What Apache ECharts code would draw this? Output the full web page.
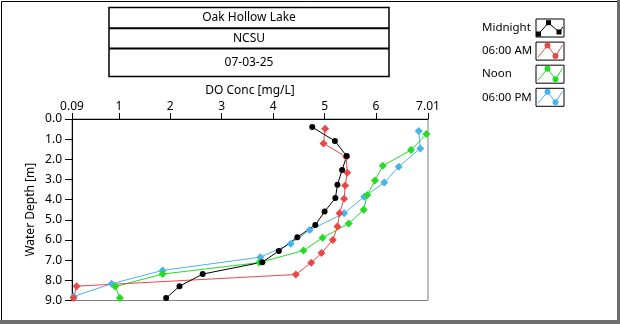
<!DOCTYPE html>
<html>
<head>
<meta charset="utf-8">
<script src="https://cdn.jsdelivr.net/npm/echarts@6/dist/echarts.min.js"></script>
<style>
  html, body { margin: 0; padding: 0; background: #fff; }
  #chart { width: 620px; height: 324px; }
</style>
</head>
<body>
<div id="chart"></div>
<script>
// Dissolved oxygen profiles: [DO concentration mg/L, water depth m]
const midnight = [[4.76,0.40],[5.20,1.09],[5.43,1.84],[5.34,2.53],[5.25,3.26],[5.21,3.92],[5.00,4.59],[4.82,5.25],[4.47,5.86],[4.11,6.54],[3.79,7.10],[2.63,7.69],[2.18,8.29],[1.92,8.88]];
const am6 = [[5.01,0.48],[4.98,1.21],[5.42,1.88],[5.44,2.67],[5.40,3.30],[5.38,3.96],[5.29,4.67],[5.25,5.33],[5.16,6.00],[4.94,6.65],[4.74,7.13],[4.44,7.71],[0.18,8.29],[0.12,8.88]];
const noon = [[6.98,0.74],[6.68,1.54],[6.13,2.32],[5.98,3.05],[5.83,3.77],[5.76,4.50],[5.47,5.18],[4.96,5.89],[4.59,6.52],[3.73,7.12],[1.85,7.69],[0.93,8.31],[1.02,8.88]];
const pm6 = [[6.83,0.60],[6.86,1.46],[6.44,2.37],[6.16,3.15],[5.77,3.86],[5.38,4.67],[4.71,5.51],[4.34,6.19],[3.75,6.85],[1.85,7.51],[0.86,8.17],[0.12,8.80]];

const seriesNames = ['Midnight', '06:00 AM', 'Noon', '06:00 PM'];
const seriesColors = ['#000000', '#e84848', '#22dd22', '#48b4ea'];
const titleLines = ['Oak Hollow Lake', 'NCSU', '07-03-25'];
const xTicks = [0.09, 1, 2, 3, 4, 5, 6, 7.01];
const xName = 'DO Conc [mg/L]';
const yName = 'Water Depth [m]';

const FONT = 'Noto Sans';
const chart = echarts.init(document.getElementById('chart'), null, { renderer: 'canvas' });

function profile(name, data, color, symbol, size) {
  return {
    name: name, type: 'line', data: data,
    symbol: symbol, symbolSize: size,
    lineStyle: { color: color, width: 1 },
    itemStyle: { color: color },
    animation: false, silent: true
  };
}

// Title table
const tb = { x: 109, y: 7.5, w: 280, h: 69 };
const rowY = [7.5, 28.3, 48.5, 76.5];
const titleGraphics = [
  { type: 'rect', shape: { x: tb.x, y: tb.y, width: tb.w, height: tb.h }, style: { fill: '#fff', stroke: '#000', lineWidth: 1.5 } },
  { type: 'line', shape: { x1: tb.x, y1: rowY[1], x2: tb.x + tb.w, y2: rowY[1] }, style: { stroke: '#000', lineWidth: 2 } },
  { type: 'line', shape: { x1: tb.x, y1: rowY[2], x2: tb.x + tb.w, y2: rowY[2] }, style: { stroke: '#000', lineWidth: 2 } }
];
titleLines.forEach((t, i) => {
  titleGraphics.push({
    type: 'text', x: tb.x + tb.w / 2, y: (rowY[i] + rowY[i + 1]) / 2,
    style: { text: t, font: '12px "' + FONT + '"', fill: '#000', align: 'center', verticalAlign: 'middle' }
  });
});

// Legend with line/marker swatches
const legendGraphics = [];
const icons = [
  [[2.5, 15], [12.5, 3.7], [23, 13], [27, 8]],
  [[2, 15], [11.5, 3.5], [19.5, 14], [26.5, 3]],
  [[2, 15], [11.5, 3.5], [19.5, 14], [26.5, 3]],
  [[2, 15], [11.5, 3.5], [19.5, 14], [26.5, 3]]
];
const iconMarks = [[0, 1, 2], [1, 2], [1, 2], [1, 2]];
seriesNames.forEach((n, i) => {
  const by = 19 + i * 23.1, bx = 536;
  legendGraphics.push({
    type: 'text', x: 482, y: by + 9,
    style: { text: n, font: '11.5px "' + FONT + '"', fill: '#000', align: 'left', verticalAlign: 'middle' }
  });
  legendGraphics.push({ type: 'rect', shape: { x: bx, y: by, width: 28, height: 18 }, style: { fill: '#fff', stroke: '#000', lineWidth: 1 } });
  const pts = icons[i].map(p => [bx + p[0], by + p[1]]);
  legendGraphics.push({ type: 'polyline', shape: { points: pts }, style: { stroke: seriesColors[i], lineWidth: 1, fill: null } });
  iconMarks[i].forEach(k => {
    legendGraphics.push({
      type: i === 0 ? 'rect' : 'circle',
      shape: i === 0 ? { x: pts[k][0] - 2.5, y: pts[k][1] - 2.5, width: 5, height: 5 } : { cx: pts[k][0], cy: pts[k][1], r: 3 },
      style: { fill: seriesColors[i] }
    });
  });
});

// Window frame
const frameGraphics = [
  { type: 'line', shape: { x1: 1.5, y1: 1.5, x2: 617, y2: 1.5 }, style: { stroke: '#000', lineWidth: 1 } },
  { type: 'line', shape: { x1: 1.5, y1: 1.5, x2: 1.5, y2: 320 }, style: { stroke: '#000', lineWidth: 1 } },
  { type: 'rect', shape: { x: 617, y: 0, width: 3, height: 324 }, style: { fill: '#6e6e6e' } },
  { type: 'rect', shape: { x: 0, y: 320, width: 620, height: 4 }, style: { fill: '#6e6e6e' } }
];

chart.setOption({
  backgroundColor: '#ffffff',
  animation: false,
  grid: { left: 72, right: 192, top: 119, bottom: 23.5, show: true, borderColor: '#808080', borderWidth: 1, backgroundColor: '#fff' },
  xAxis: {
    type: 'value', position: 'top', min: 0.09, max: 7.01,
    name: xName, nameLocation: 'middle', nameGap: 22, nameMoveOverlap: false,
    nameTextStyle: { fontFamily: FONT, fontSize: 12, color: '#000' },
    axisLine: { show: true, lineStyle: { color: '#000', width: 1 } },
    axisTick: { show: true, length: 6, customValues: xTicks, lineStyle: { color: '#000' } },
    axisLabel: { customValues: xTicks, margin: 6, fontFamily: FONT, fontSize: 12, color: '#000', formatter: v => String(v) },
    splitLine: { show: false }
  },
  yAxis: {
    type: 'value', inverse: true, min: 0, max: 9, interval: 1,
    name: yName, nameLocation: 'middle', nameGap: 35, nameMoveOverlap: false,
    nameTextStyle: { fontFamily: FONT, fontSize: 12, color: '#000' },
    axisLine: { show: true, lineStyle: { color: '#000', width: 1 } },
    axisTick: { show: true, length: 7, lineStyle: { color: '#000' } },
    axisLabel: { margin: 10, fontFamily: FONT, fontSize: 12, color: '#000', formatter: v => v.toFixed(1) },
    splitLine: { show: false }
  },
  series: [
    profile(seriesNames[3], pm6, seriesColors[3], 'diamond', 8),
    profile(seriesNames[2], noon, seriesColors[2], 'diamond', 8),
    profile(seriesNames[1], am6, seriesColors[1], 'diamond', 8),
    profile(seriesNames[0], midnight, seriesColors[0], 'circle', 6)
  ],
  graphic: { elements: titleGraphics.concat(legendGraphics, frameGraphics) }
});
</script>
</body>
</html>
